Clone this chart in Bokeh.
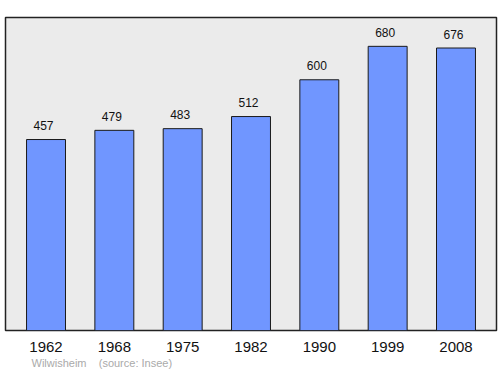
from bokeh.plotting import figure
from bokeh.models import ColumnDataSource, FixedTicker, Range1d, Title
from bokeh.core.properties import value
from bokeh.embed import file_html
from bokeh.resources import INLINE

years = ["1962", "1968", "1975", "1982", "1990", "1999", "2008"]
population = [457, 479, 483, 512, 600, 680, 676]
place = "Wilwisheim"
source_note = "(source: Insee)"

idx = list(range(len(years)))
src = ColumnDataSource(dict(x=idx, top=population, label=[str(v) for v in population]))

W, H = 500, 374
p = figure(width=W, height=H, output_backend="svg", toolbar_location=None,
           x_range=Range1d(-0.593, 6.593), y_range=Range1d(0, 749),
           min_border_left=5, min_border_right=4, min_border_top=17, min_border_bottom=44)
p.background_fill_color = "#ebebeb"
p.border_fill_color = "white"
p.outline_line_color = "#222222"
p.outline_line_width = 1.5
p.grid.visible = False
p.yaxis.visible = False

p.vbar(x="x", top="top", bottom=0, width=0.57, source=src,
       fill_color="#7096ff", line_color="#1a1a1a", line_width=1)

p.text(x="x", y="top", text="label", source=src, text_align="center",
       text_baseline="alphabetic", y_offset=-14, x_offset=-2.5,
       text_font=value("Liberation Sans"),
       text_font_size="12px", text_color="#111111")

ax = p.xaxis[0]
ax.ticker = FixedTicker(ticks=idx)
ax.major_label_overrides = {i: y for i, y in zip(idx, years)}
ax.axis_line_color = None
ax.major_tick_line_color = None
ax.minor_tick_line_color = None
ax.major_label_standoff = 5
ax.major_label_text_font = "Liberation Sans"
ax.major_label_text_font_size = "15px"
ax.major_label_text_color = "#111111"

footer = Title(text=place + "\u00a0\u00a0\u00a0\u00a0" + source_note, align="left",
               offset=26, standoff=0, text_font="Liberation Sans",
               text_font_size="11px", text_font_style="normal", text_color="#aaaaaa")
p.add_layout(footer, "below")

open("out.html", "w").write(file_html(p, INLINE))
